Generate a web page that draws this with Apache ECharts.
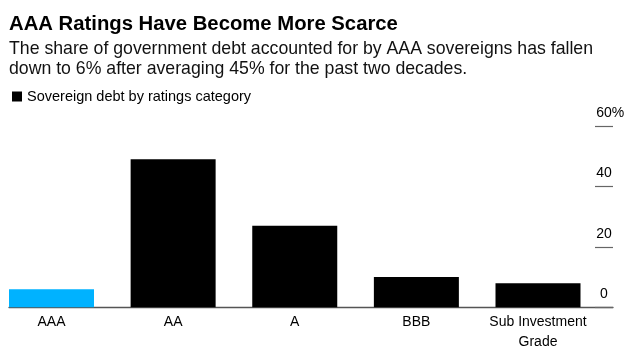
<!DOCTYPE html>
<html>
<head>
<meta charset="utf-8">
<script src="https://cdn.jsdelivr.net/npm/echarts@6/dist/echarts.min.js"></script>
<style>
html,body{margin:0;padding:0;background:#fff;}
#c{width:639px;height:354px;}
</style>
</head>
<body>
<div id="c"></div>
<script>
const categories = ['AAA', 'AA', 'A', 'BBB', 'Sub Investment\nGrade'];
const values = [6, 49, 27, 10, 8];
const highlight = [true, false, false, false, false];
const yTicks = [0, 20, 40, 60];
const seriesName = 'Sovereign debt by ratings category';

const FONT = '"Liberation Sans", Arial, sans-serif';
const chart = echarts.init(document.getElementById('c'));
chart.setOption({
  backgroundColor: '#fff',
  animation: false,
  textStyle: { fontFamily: FONT },
  title: {
    text: 'AAA Ratings Have Become More Scarce',
    subtext: 'The share of government debt accounted for by AAA sovereigns has fallen\ndown to 6% after averaging 45% for the past two decades.',
    left: 4, top: 9,
    itemGap: 5,
    textStyle: { fontSize: 20.3, fontWeight: 'bold', color: '#000', fontFamily: FONT },
    subtextStyle: { fontSize: 17.7, color: '#111', lineHeight: 20, fontFamily: FONT }
  },
  legend: {
    left: 7, top: 84,
    icon: 'rect', itemWidth: 10, itemHeight: 10,
    textStyle: { fontSize: 14.5, color: '#000', fontFamily: FONT },
    data: [seriesName]
  },
  grid: [
    { left: 51.5, right: 101, top: 126, bottom: 46.7 },
    { left: 9, right: 26, top: 126, bottom: 46.7 }
  ],
  xAxis: [
    { type: 'category', gridIndex: 0, data: categories, boundaryGap: false,
      axisLine: { show: false }, axisTick: { show: false },
      axisLabel: { fontSize: 14, color: '#000', lineHeight: 20, margin: 5, interval: 0 } },
    { type: 'category', gridIndex: 1, data: categories,
      axisLine: { show: true, lineStyle: { color: '#555', width: 1.3 } },
      axisTick: { show: false }, axisLabel: { show: false } }
  ],
  yAxis: [
    { type: 'value', gridIndex: 0, min: 0, max: 60, interval: 20, show: false },
    { type: 'value', gridIndex: 1, position: 'right', min: 0, max: 60, interval: 20,
      splitLine: { show: false }, axisLine: { show: false },
      axisTick: { show: true, inside: true, length: 18, lineStyle: { color: '#666', width: 1.2 } },
      axisLabel: {
        inside: true, align: 'left', margin: 17, verticalAlign: 'bottom', padding: [0, 0, 6, 0],
        formatter: function (v) {
          return '{n|' + v + '}{p|' + (v === yTicks[yTicks.length - 1] ? '%' : '') + '}';
        },
        rich: {
          n: { width: 16, align: 'right', fontSize: 14, color: '#000', fontFamily: FONT },
          p: { width: 12, align: 'left', fontSize: 14, color: '#000', fontFamily: FONT }
        }
      } }
  ],
  series: [{
    name: seriesName,
    type: 'bar',
    xAxisIndex: 0, yAxisIndex: 0,
    barWidth: 85,
    clip: false,
    itemStyle: { color: '#000' },
    data: values.map((v, i) => ({ value: v, itemStyle: { color: highlight[i] ? '#00b2ff' : '#000' } }))
  }]
});
</script>
</body>
</html>
